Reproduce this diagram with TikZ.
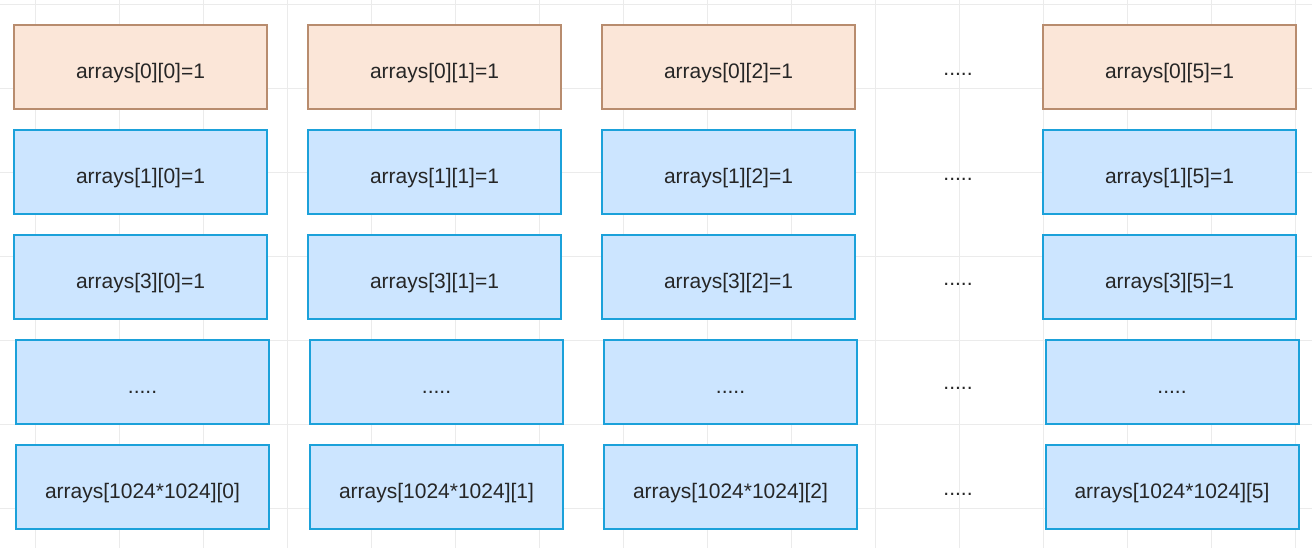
\documentclass[tikz,border=0pt]{standalone}
\usepackage{fontspec}
\setmainfont{Liberation Sans}
\definecolor{pfill}{HTML}{FBE6D8}
\definecolor{pdraw}{HTML}{B88C6E}
\definecolor{bfill}{HTML}{CCE5FF}
\definecolor{bdraw}{HTML}{1BA1DA}
\definecolor{gridc}{HTML}{EBEBEB}
\begin{document}
\begin{tikzpicture}[x=1pt,y=-1pt,
  cell/.style={rectangle,minimum width=253pt,minimum height=84pt,line width=2pt,inner sep=0pt,text height=23pt,text depth=0pt,font=\fontsize{21}{24}\selectfont,text=black!85},
  pcell/.style={cell,fill=pfill,draw=pdraw},
  bcell/.style={cell,fill=bfill,draw=bdraw},
  dotlbl/.style={inner sep=0pt,text height=17pt,text depth=0pt,font=\fontsize{21}{24}\selectfont,text=black!85}]
\useasboundingbox (0,0) rectangle (1312,548);
\fill[white] (0,0) rectangle (1312,548);
\foreach \i in {0,...,15} {\draw[gridc,line width=0.8pt] ({35+84.05*\i},0) -- ({35+84.05*\i},548);}
\foreach \j in {0,...,6} {\draw[gridc,line width=0.8pt] (0,{4+84*\j}) -- (1312,{4+84*\j});}
% row 1
\node[pcell] (a00) at (140.5,67) {arrays[0][0]=1};
\node[pcell] (a01) at (434.5,67) {arrays[0][1]=1};
\node[pcell] (a02) at (728.5,67) {arrays[0][2]=1};
\node[dotlbl] (d0) at (958,67) {.....};
\node[pcell] (a05) at (1169.5,67) {arrays[0][5]=1};
% row 2
\node[bcell] (a10) at (140.5,172) {arrays[1][0]=1};
\node[bcell] (a11) at (434.5,172) {arrays[1][1]=1};
\node[bcell] (a12) at (728.5,172) {arrays[1][2]=1};
\node[dotlbl] (d1) at (958,172) {.....};
\node[bcell] (a15) at (1169.5,172) {arrays[1][5]=1};
% row 3
\node[bcell] (a30) at (140.5,277) {arrays[3][0]=1};
\node[bcell] (a31) at (434.5,277) {arrays[3][1]=1};
\node[bcell] (a32) at (728.5,277) {arrays[3][2]=1};
\node[dotlbl] (d3) at (958,277) {.....};
\node[bcell] (a35) at (1169.5,277) {arrays[3][5]=1};
% row 4
\node[bcell] (ax0) at (142.5,382) {.....};
\node[bcell] (ax1) at (436.5,382) {.....};
\node[bcell] (ax2) at (730.5,382) {.....};
\node[dotlbl] (dx) at (958,381) {.....};
\node[bcell] (ax5) at (1172,382) {.....};
% row 5
\node[bcell] (an0) at (142.5,487) {arrays[1024*1024][0]};
\node[bcell] (an1) at (436.5,487) {arrays[1024*1024][1]};
\node[bcell] (an2) at (730.5,487) {arrays[1024*1024][2]};
\node[dotlbl] (dn) at (958,487) {.....};
\node[bcell] (an5) at (1172,487) {arrays[1024*1024][5]};
\end{tikzpicture}
\end{document}
